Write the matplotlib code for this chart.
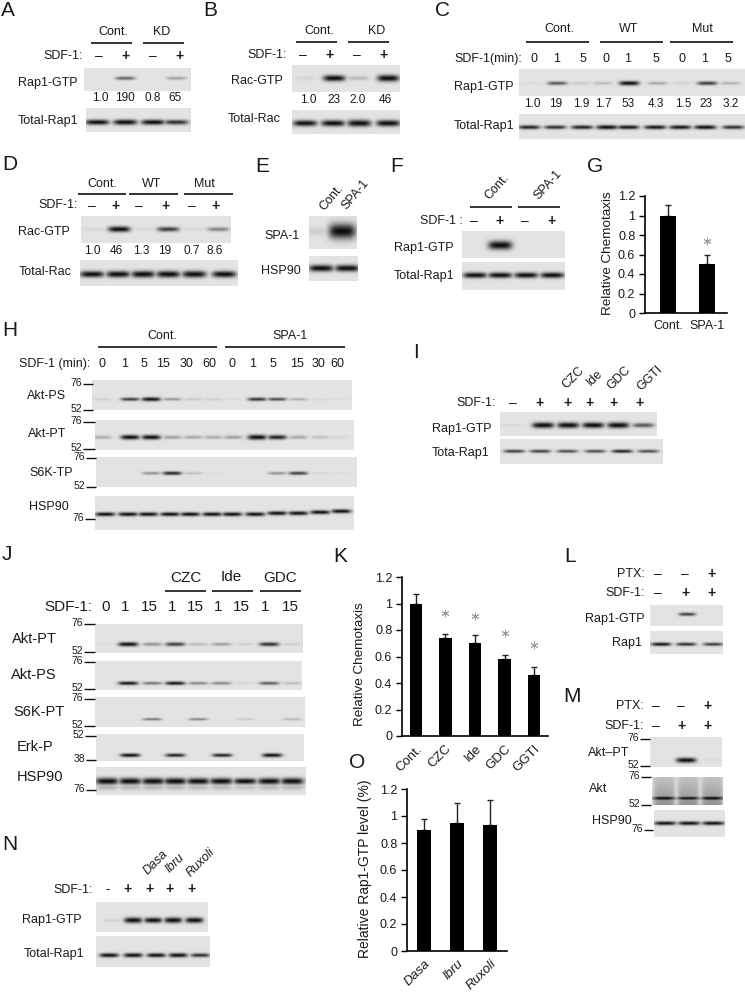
import numpy as np
import matplotlib
matplotlib.use('Agg')
import matplotlib.pyplot as plt

plt.rcParams['font.family'] = ['Liberation Sans', 'DejaVu Sans']

# bar chart values
g_labels = ['Cont.', 'SPA-1']
g_vals = [1.0, 0.5]
g_err = [0.11, 0.1]
g_star = [None, 0.74]
k_labels = ['Cont.', 'CZC', 'Ide', 'GDC', 'GGTI']
k_vals = [1.0, 0.74, 0.70, 0.58, 0.46]
k_err = [0.07, 0.03, 0.06, 0.03, 0.06]
k_star = [None, 0.93, 0.905, 0.777, 0.686]
o_labels = ['Dasa', 'Ibru', 'Ruxoli']
o_vals = [0.9, 0.95, 0.93]
o_err = [0.08, 0.15, 0.19]
yticks = [0, 0.2, 0.4, 0.6, 0.8, 1, 1.2]
ytick_labels = ['0', '0.2', '0.4', '0.6', '0.8', '1', '1.2']

# band strength per lane, read by eye from the blots
a_gtp = [0.0, 0.45, 0.0, 0.25]
a_tot = [0.8, 0.9, 0.8, 0.65]
a_nums = ['1.0', '190', '0.8', '65']
b_gtp = [0.05, 0.8, 0.15, 1.0]
b_tot = [0.75, 0.8, 1.0, 0.85]
b_nums = ['1.0', '23', '2.0', '46']
c_gtp = [0.03, 0.5, 0.1, 0.15, 0.95, 0.22, 0.07, 0.6, 0.18]
c_tot = [0.7, 0.65, 0.7, 0.9, 0.75, 0.75, 0.75, 0.8, 0.65]
c_nums = ['1.0', '19', '1.9', '1.7', '53', '4.3', '1.5', '23', '3.2']
d_gtp = [0.05, 1.0, 0.04, 0.6, 0.04, 0.35]
d_tot = [0.85, 0.9, 1.0, 1.0, 1.0, 0.9]
d_nums = ['1.0', '46', '1.3', '19', '0.7', '8.6']
e_spa = [0.08, 1.3]
e_hsp = [1.0, 1.0]
f_gtp = [0.0, 1.3, 0.0, 0.0]
f_tot = [1.0, 1.0, 1.0, 1.0]
h_ps = [0.07, 0.6, 0.95, 0.28, 0.1, 0.08, 0.04, 0.65, 0.55, 0.2, 0.05, 0.03]
h_pt = [0.2, 0.8, 0.8, 0.25, 0.22, 0.2, 0.25, 1.0, 0.7, 0.22, 0.12, 0.05]
h_s6 = [0.0, 0.0, 0.3, 0.7, 0.14, 0.02, 0.0, 0.0, 0.3, 0.6, 0.06, 0.03]
h_hsp = [1.0, 1.0, 1.0, 1.0, 1.0, 1.0, 1.0, 1.0, 1.0, 1.0, 1.0, 1.0]
i_gtp = [0.04, 1.1, 1.1, 1.05, 1.1, 0.5]
i_tot = [0.6, 0.6, 0.55, 0.55, 0.7, 0.55]
j_pt = [0.02, 0.85, 0.3, 0.6, 0.15, 0.25, 0.07, 0.65, 0.08]
j_ps = [0.0, 0.75, 0.4, 0.75, 0.35, 0.35, 0.05, 0.5, 0.15]
j_s6 = [0.0, 0.0, 0.4, 0.0, 0.35, 0.0, 0.1, 0.0, 0.18]
j_erk = [0.8, 0.7, 0.7, 0.95]
j_hsp = [1.3, 1.2, 1.2, 1.2, 1.1, 1.1, 0.9, 1.1, 1.2]
l_gtp = [0.0, 0.6, 0.0]
l_tot = [0.75, 0.65, 0.6]
m_pt = [0.0, 1.0, 0.03]
m_akt = [0.9, 0.75, 0.9]
m_hsp = [0.9, 0.9, 0.9]
n_gtp = [0.07, 1.0, 0.85, 1.0, 0.95]
n_tot = [0.8, 0.9, 0.8, 0.9, 0.65]

W, H = 745, 994
fig = plt.figure(figsize=(W / 100, H / 100), dpi=100)
bg = fig.add_axes([0, 0, 1, 1])


def T(x, y, s, ha='left', size=9, rot=0, **kw):
    anchor = 'anchor' if rot else 'default'
    bg.text(x, y, s, ha=ha, va='center', fontsize=size, rotation=rot,
            rotation_mode=anchor, color='#1a1a1a', **kw)


def blot(box, lanes, vals, yb, w=20, h=5, base=0.89, shadow=0, smear=0, blur=1.0):
    x0, x1, y0, y1 = box
    xx, yy = np.meshgrid(np.arange(x0, x1, 0.5), np.arange(y0, y1, 0.5))
    dark = np.zeros_like(xx, dtype=float)
    ybs = yb if np.ndim(yb) else [yb] * len(lanes)
    for xc, v, yc in zip(lanes, vals, ybs):
        hh = h * (0.65 + 0.45 * min(v, 1.3))
        px = np.exp(-np.abs((xx - xc) / (w / 2)) ** 4)
        py = np.exp(-((yy - yc) / (hh / 2 * blur)) ** 2)
        dark = np.maximum(dark, min(v * 1.3, 1.0) * px * py)
        if shadow:
            dark = np.maximum(dark, shadow * v * px * np.exp(-((yy - yc - h * 1.1) / (h / 2)) ** 2))
        if smear:
            wide = np.exp(-np.abs((xx - xc) / 11.0) ** 6)
            ramp = np.clip((yy - y0) / (y1 - y0), 0, 1)
            dark = np.maximum(dark, smear * (0.35 + 0.5 * ramp) * wide)
    img = base * (1 - dark) + 0.05 * dark
    bg.imshow(img, extent=(x0, x1, y1, y0), cmap='gray', vmin=0, vmax=1,
              aspect='auto', interpolation='bilinear', zorder=1)


def hline(y, x0, x1, lw=1.2):
    bg.plot([x0, x1], [y, y], color='#111111', lw=lw, solid_capstyle='butt', zorder=2)


def mw(y, s, x0, x1, size=7.5):
    hline(y, x0, x1, lw=1.0)
    T(x0 - 1, y - 1, s, ha='right', size=size)


def row(xs, y, items, size=9, **kw):
    for x, s in zip(xs, items):
        T(x, y, s, ha='center', size=size, **kw)


def signs(xs, y, items, size=10):
    for x, s in zip(xs, items):
        T(x, y, s, ha='center', size=size, fontweight='bold' if s == '+' else 'normal')


def bars(rect, x_first, spacing, labels, vals, err, stars=None, bw=14, italic=False,
         rot=45, ylabel='', ylabel_x=0, ylabel_y=None, ylabel_size=9.7, size=9):
    left, top, right, bottom = rect
    ax = fig.add_axes([left / W, 1 - bottom / H, (right - left) / W, (bottom - top) / H])
    idx = np.arange(len(vals))
    ax.bar(idx, vals, width=bw / spacing, color='black', zorder=2)
    ax.errorbar(idx, vals, yerr=[np.zeros(len(err)), err], fmt='none', ecolor='#222222',
                elinewidth=1.0, capsize=2.5, capthick=1.0, zorder=1)
    if stars:
        for i, s in enumerate(stars):
            if s is not None:
                ax.plot(i, s, marker=(6, 2, 0), ms=5.5, mew=0.6, color='#999999', ls='none')
    ax.set_xlim((left - x_first) / spacing, (right - x_first) / spacing)
    ax.set_ylim(0, 1.2)
    ax.patch.set_alpha(0)
    ax.set_yticks(yticks)
    ax.set_yticklabels(ytick_labels, fontsize=size, color='#1a1a1a')
    ax.set_xticks(idx)
    if rot:
        ax.set_xticklabels(labels, rotation=rot, ha='right', rotation_mode='anchor',
                           fontsize=size + 0.5, style='italic' if italic else 'normal', color='#1a1a1a')
    else:
        ax.set_xticklabels(labels, fontsize=size, color='#1a1a1a')
    ax.tick_params(axis='x', length=0, pad=5)
    ax.tick_params(axis='y', length=4, width=1.0, pad=3)
    ax.spines[['top', 'right']].set_visible(False)
    ax.spines[['left', 'bottom']].set_linewidth(1.2)
    yc = ylabel_y if ylabel_y else (top + bottom) / 2
    T(ylabel_x, yc, ylabel, ha='center', size=ylabel_size, rot=90)


# panel letters
letters = [('A', 1, 10), ('B', 203, 10), ('C', 435, 11), ('D', 2, 165), ('E', 255, 167),
           ('F', 390, 167), ('G', 587, 167), ('H', 2, 331), ('I', 413, 353), ('J', 2, 555),
           ('K', 333, 556), ('L', 564, 556), ('M', 563, 697), ('N', 2, 845), ('O', 349, 762)]
for s, x, y in letters:
    T(x, y, s, size=15)

# A
xs = [99, 125, 153, 180]
T(113, 32, 'Cont.', ha='center'); T(162, 32, 'KD', ha='center')
hline(43, 91, 132); hline(43, 143, 184)
T(83, 56, 'SDF-1:', ha='right')
signs(xs, 56, ['–', '+', '–', '+'])
blot((84, 191, 68, 91), [97, 125, 153, 176], a_gtp, 78, w=20, h=4)
row([100, 125, 153, 175], 98, a_nums, size=8.5)
blot((86, 191, 108, 132), [97, 125, 153, 176], a_tot, 122, w=24, h=5)
T(18, 83, 'Rap1-GTP'); T(18, 121, 'Total-Rap1')

# B
xs = [303, 330, 357, 384]
T(319, 31, 'Cont.', ha='center'); T(377, 31, 'KD', ha='center')
hline(42, 296, 337); hline(42, 348, 389)
T(287, 55, 'SDF-1:', ha='right')
signs(xs, 55, ['–', '+', '–', '+'])
blot((292, 400, 65, 92), [305, 334, 358, 388], b_gtp, 78, w=22, h=6)
row([308, 334, 358, 385], 100, b_nums, size=8.5)
blot((292, 400, 110, 134), [305, 333, 359, 388], b_tot, 123, w=24, h=6)
T(283, 81, 'Rac-GTP', ha='right'); T(281, 119, 'Total-Rac', ha='right')

# C
T(559, 29, 'Cont.', ha='center'); T(629, 29, 'WT', ha='center'); T(702, 29, 'Mut', ha='center')
hline(42, 526, 589); hline(42, 600, 663); hline(42, 670, 733)
T(454, 59, 'SDF-1(min):')
row([534, 557, 583, 606, 628, 656, 682, 705, 728], 59, ['0', '1', '5', '0', '1', '5', '0', '1', '5'])
blot((519, 745, 69, 96), [533, 557, 580, 602, 629, 657, 681, 707, 730], c_gtp, 83, w=20, h=4)
row([532, 556, 581, 603, 628, 656, 683, 706, 731], 104, c_nums, size=8.5)
blot((519, 745, 114, 139), [529, 555, 582, 607, 628, 655, 680, 705, 733], c_tot, 127, w=22, h=4)
T(454, 87, 'Rap1-GTP'); T(454, 126, 'Total-Rap1')

# D
xs = [92, 115, 139, 165, 192, 216]
T(102, 184, 'Cont.', ha='center'); T(152, 184, 'WT', ha='center'); T(204, 184, 'Mut', ha='center')
hline(194, 78, 126); hline(194, 129, 178); hline(194, 184, 233)
T(78, 205, 'SDF-1:', ha='right')
signs(xs, 206, ['–', '+', '–', '+', '–', '+'])
blot((81, 231, 216, 243), [95, 119, 145, 168, 195, 218], d_gtp, 229, w=22, h=5)
row([92, 116, 141, 165, 192, 215], 251, d_nums, size=8.5)
blot((80, 238, 260, 286), [92, 118, 143, 168, 194, 224], d_tot, 274, w=24, h=6)
T(18, 232, 'Rac-GTP'); T(19, 272, 'Total-Rac')

# E
T(332, 198, 'Cont.', ha='center', rot=50); T(355, 195, 'SPA-1', ha='center', rot=50)
blot((309, 357, 216, 249), [318, 342], e_spa, 231, w=27, h=11, blur=1.1)
blot((309, 358, 256, 281), [321, 347], e_hsp, 268, w=25, h=6)
T(300, 236, 'SPA-1', ha='right'); T(301, 271, 'HSP90', ha='right')

# F
T(497, 187, 'Cont.', ha='center', rot=48); T(548, 185, 'SPA-1', ha='center', rot=48)
hline(207, 470, 512); hline(207, 518, 560)
T(463, 221, 'SDF-1 :', ha='right')
signs([474, 500, 525, 552], 221, ['–', '+', '–', '+'])
blot((462, 565, 231, 258), [475, 500, 525, 552], f_gtp, 245, w=24, h=7)
blot((462, 565, 262, 290), [475, 500, 526, 552], f_tot, 275, w=24, h=5)
T(454, 248, 'Rap1-GTP', ha='right'); T(454, 276, 'Total-Rap1', ha='right')

# G
bars((645, 196, 727, 313), 668, 39, g_labels, g_vals, g_err, stars=g_star, bw=16, rot=0,
     ylabel='Relative Chemotaxis', ylabel_x=608, ylabel_y=253)

# H
T(162, 336, 'Cont.', ha='center'); T(290, 336, 'SPA-1', ha='center')
hline(347, 98, 217); hline(347, 225, 345)
T(19, 364, 'SDF-1 (min):')
row([102, 125, 144, 163, 186, 209, 232, 253, 273, 297, 318, 337], 364,
    ['0', '1', '5', '15', '30', '60', '0', '1', '5', '15', '30', '60'])
lanes_h = [102, 130, 151, 172, 193, 213, 233, 257, 277, 298, 320, 338]
blot((92, 352, 380, 410), lanes_h, h_ps, 399, w=19, h=3.5)
blot((95, 354, 420, 450), lanes_h, h_pt, 437, w=19, h=4.5)
blot((96, 357, 457, 487), lanes_h, h_s6, 473, w=19, h=3.5)
blot((95, 354, 496, 530), [105, 128, 148, 170, 190, 212, 232, 255, 277, 298, 320, 341], h_hsp,
     [514, 514, 514, 514, 514, 514, 514, 514, 513, 513, 512, 511], w=20, h=3.5)
T(27, 396, 'Akt-PS'); T(28, 434, 'Akt-PT'); T(29, 473, 'S6K-TP'); T(29, 507, 'HSP90')
mw(384, '76', 83, 93); mw(410, '52', 83, 93)
mw(422, '76', 83, 95); mw(449, '52', 83, 95)
mw(458, '76', 86, 96); mw(487, '52', 86, 96)
mw(519, '76', 85, 95)

# I
for x, s in zip([573, 595, 619, 650], ['CZC', 'Ide', 'GDC', 'GGTI']):
    T(x, 378, s, ha='center', rot=45, )
T(496, 403, 'SDF-1:', ha='right')
signs([513, 540, 567, 590, 613, 640], 403, ['–', '+', '+', '+', '+', '+'])
blot((500, 657, 412, 436), [512, 543, 568, 593, 618, 643], i_gtp, 425, w=22, h=5)
blot((500, 663, 439, 464), [514, 540, 567, 595, 622, 648], i_tot, 451, w=21, h=3.5)
T(432, 429, 'Rap1-GTP'); T(432, 453, 'Tota-Rap1')

# J
T(186, 578, 'CZC', ha='center', size=11); T(231, 577, 'Ide', ha='center', size=11)
T(280, 578, 'GDC', ha='center', size=11)
hline(591, 165, 206); hline(591, 212, 253); hline(591, 260, 301)
T(92, 607, 'SDF-1:', ha='right', size=11)
row([106, 125, 149, 172, 195, 218, 241, 265, 290], 607,
    ['0', '1', '15', '1', '15', '1', '15', '1', '15'], size=11)
lanes_j = [107, 128, 152, 175, 198, 221, 245, 269, 292]
blot((95, 303, 624, 653), lanes_j, j_pt, 644, w=20, h=4)
blot((95, 302, 661, 690), lanes_j, j_ps, 683, w=20, h=3.5)
blot((95, 305, 697, 727), lanes_j, j_s6, 719, w=19, h=3)
blot((96, 304, 734, 761), [130, 175, 222, 272], j_erk, 755, w=20, h=3.5)
blot((96, 306, 767, 795), [107, 130, 153, 175, 198, 221, 245, 269, 292], j_hsp, 781, w=23, h=5.5, shadow=0.17)
T(12, 639, 'Akt-PT', size=10.5); T(11, 675, 'Akt-PS', size=10.5); T(13, 712, 'S6K-PT', size=10.5)
T(17, 747, 'Erk-P', size=10.5); T(17, 777, 'HSP90', size=10.5)
mw(624, '76', 84, 95); mw(652, '52', 84, 95)
mw(662, '76', 84, 95); mw(689, '52', 84, 95)
mw(699, '76', 84, 95); mw(726, '52', 84, 95)
mw(736, '52', 85, 96); mw(760, '38', 86, 96)
mw(790, '76', 86, 96)

# K
bars((402, 577, 548, 736), 416, 29.5, k_labels, k_vals, k_err, stars=k_star, bw=12.5,
     ylabel='Relative Chemotaxis', ylabel_x=360, ylabel_y=664)

# L
xs = [658, 685, 712]
T(645, 574, 'PTX:', ha='right'); T(645, 593, 'SDF-1:', ha='right')
signs(xs, 574, ['–', '–', '+']); signs(xs, 593, ['–', '+', '+'])
blot((650, 723, 605, 626), [661, 687, 713], l_gtp, 614, w=17, h=3.5)
blot((650, 723, 631, 654), [661, 686, 713], l_tot, 644, w=20, h=3.5)
T(645, 619, 'Rap1-GTP', ha='right'); T(642, 643, 'Rap1', ha='right')

# M
xs = [656, 681, 708]
T(644, 706, 'PTX:', ha='right'); T(644, 726, 'SDF-1:', ha='right')
signs(xs, 706, ['–', '–', '+']); signs(xs, 726, ['–', '+', '+'])
blot((650, 722, 737, 767), [662, 686, 712], m_pt, 760, w=20, h=4.5)
blot((652, 723, 777, 805), [664, 688, 712], m_akt, 798, w=23, h=4, smear=0.45)
blot((654, 725, 810, 837), [665, 689, 713], m_hsp, 823, w=22, h=3.5)
T(588, 753, 'Akt–PT'); T(589, 789, 'Akt'); T(592, 821, 'HSP90')
mw(739, '76', 640, 650); mw(766, '52', 640, 650)
mw(777, '76', 641, 651); mw(805, '52', 641, 651)
mw(830, '76', 644, 653)

# N
T(93, 890, 'SDF-1:', ha='right')
signs([108, 128, 149, 170, 192], 889, ['-', '+', '+', '+', '+'])
for x, s in zip([156, 175, 201], ['Dasa', 'Ibru', 'Ruxoli']):
    T(x, 863, s, ha='center', rot=45, style='italic')
blot((96, 208, 902, 932), [112, 133, 153, 173, 194], n_gtp, 920, w=18, h=5)
blot((96, 210, 936, 967), [109, 133, 156, 178, 200], n_tot, 955, w=19, h=4)
T(22, 920, 'Rap1-GTP'); T(24, 954, 'Total-Rap1')

# O
bars((407, 789, 507, 951), 424, 33, o_labels, o_vals, o_err, bw=14, italic=True,
     ylabel='Relative Rap1-GTP level (%)', ylabel_x=365, ylabel_y=869, ylabel_size=10)

bg.set_xlim(0, W)
bg.set_ylim(H, 0)
bg.axis('off')
fig.savefig('out.png', dpi=100)
